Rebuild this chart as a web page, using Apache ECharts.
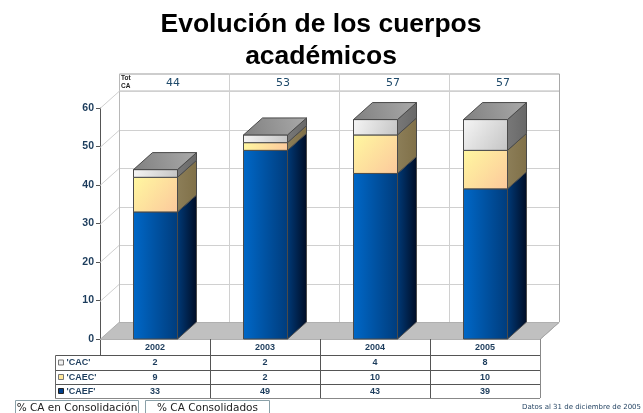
<!DOCTYPE html>
<html>
<head>
<meta charset="utf-8">
<title>Evolución de los cuerpos académicos</title>
<script src="https://cdn.jsdelivr.net/npm/echarts@6/dist/echarts.min.js"></script>
<style>
html,body{margin:0;padding:0;background:#fff}
#chart{width:643px;height:413px}
</style>
</head>
<body>
<div id="chart"></div>
<script>
var anios = ['2002', '2003', '2004', '2005'];
var cac = [2, 2, 4, 8];
var caec = [9, 2, 10, 10];
var caef = [33, 49, 43, 39];
var totales = [44, 53, 57, 57];
var ticks = [0, 10, 20, 30, 40, 50, 60];
var filas = ["'CAC'", "'CAEC'", "'CAEF'"];

// desplazamiento de la pared del fondo (pseudo 3d)
var DX = 19, DY = -17;
var GRIS = '#d0d0d0';
var TEXTO = '#1c3c5c';
var FUENTE = '"Liberation Sans", Arial, sans-serif';
var filaY = [339, 355, 370, 384, 398];

function grad(x0, y0, x1, y1, c0, c1) {
	return new echarts.graphic.LinearGradient(x0, y0, x1, y1, [{offset: 0, color: c0}, {offset: 1, color: c1}]);
}
function linea(x1, y1, x2, y2, color, w) {
	return {type: 'line', shape: {x1: x1, y1: y1, x2: x2, y2: y2}, style: {stroke: color, lineWidth: w || 1}};
}
function poli(puntos, fill, stroke) {
	return {type: 'polygon', shape: {points: puntos}, style: {fill: fill, stroke: stroke || '#4a4a4a', lineWidth: 1}};
}
function texto(x, y, t, font, color, align) {
	return {type: 'text', x: x, y: y, style: {text: t, font: font, fill: color || TEXTO, align: align || 'center', verticalAlign: 'middle'}};
}

// pared del fondo y piso: una fila por tick
function renderPared(params, api) {
	var val = api.value(0);
	var p = api.coord([0, val]);
	var x0 = params.coordSys.x, w = params.coordSys.width;
	var y = Math.round(p[1]) + 0.5;
	var hijos = [];
	if (val === 0) {
		hijos.push(poli([[x0, y], [x0 + DX, y + DY], [x0 + w + DX, y + DY], [x0 + w, y]], '#c0c0c0', '#b0b0b0'));
	} else {
		hijos.push(linea(x0 + DX, y + DY, x0 + w + DX, y + DY, GRIS));
		hijos.push(linea(x0, y, x0 + DX, y + DY, GRIS));
	}
	return {type: 'group', children: hijos};
}

// columnas verticales del fondo y fila de totales
function renderTotales(params, api) {
	var i = api.value(0);
	var c = api.coord([i, 60]);
	var cs = params.coordSys;
	var bw = cs.width / anios.length;
	var xi = Math.round(c[0] - bw / 2 + DX) + 0.5;
	var yTecho = c[1] + DY;
	var yBase = cs.y + cs.height + DY;
	var hijos = [
		linea(xi, yTecho - 17, xi, yBase, i === 0 ? '#b8b8b8' : GRIS),
		linea(xi, yTecho - 17, xi + bw, yTecho - 17, '#bdbdbd', 1.5),
		linea(xi, yTecho, xi + bw, yTecho, GRIS, 1.5),
		texto(c[0] + DX - 1, yTecho - 8, String(api.value(1)), '11px "DejaVu Sans"', '#1f4a6a')
	];
	if (i === anios.length - 1) {
		hijos.push(linea(xi + bw, yTecho - 17, xi + bw, yBase, '#a8a8a8'));
		hijos.push(linea(xi + bw, yBase, xi + bw - DX, yBase - DY, '#a8a8a8'));
	}
	return {type: 'group', children: hijos};
}

// barra apilada: frente, lado y tapa
function renderBarras(params, api) {
	var i = api.value(0);
	var ancho = api.size([1, 0])[0] * 0.4;
	var xc = api.coord([i, 0])[0];
	var x = Math.round(xc - ancho / 2) + 0.5;
	var tramos = [
		{v: api.value(1), frente: ['#0068c8', '#003c7c', 0], lado: ['#003a78', '#000c24']},
		{v: api.value(2), frente: ['#fff8a0', '#fcc89c', 1], lado: ['#8c7e58', '#807048']},
		{v: api.value(3), frente: ['#f6f6f6', '#c4c4c4', 1], lado: ['#787878', '#686868']}
	];
	var hijos = [], acum = 0;
	tramos.forEach(function (t) {
		var yb = api.coord([i, acum])[1];
		acum += t.v;
		var yt = api.coord([i, acum])[1];
		hijos.push(poli([[x + ancho, yb], [x + ancho + DX, yb + DY], [x + ancho + DX, yt + DY], [x + ancho, yt]],
			grad(0, 0, 1, 0, t.lado[0], t.lado[1])));
		hijos.push({type: 'rect', shape: {x: x, y: yt, width: ancho, height: yb - yt},
			style: {fill: t.frente[2] ? grad(0, 0, 1, 1, t.frente[0], t.frente[1]) : grad(0, 0, 1, 0, t.frente[0], t.frente[1]), stroke: '#4a4a4a', lineWidth: 1}});
	});
	var yTop = api.coord([i, acum])[1];
	hijos.push(poli([[x, yTop], [x + DX, yTop + DY], [x + ancho + DX, yTop + DY], [x + ancho, yTop]],
		grad(0, 1, 1, 0, '#808080', '#aaaaaa')));
	return {type: 'group', children: hijos};
}

// celdas de la tabla de datos bajo cada columna
function renderTabla(params, api) {
	var i = api.value(0);
	var xc = api.coord([i, 0])[0];
	var bw = api.size([1, 0])[0];
	var xd = Math.round(xc + bw / 2) + 0.5;
	var hijos = [linea(xd, filaY[0], xd, filaY[4], i === anios.length - 1 ? '#888' : '#555')];
	[1, 2, 3].forEach(function (k) {
		hijos.push(texto(xc, (filaY[k] + filaY[k + 1]) / 2 + 0.5, String(api.value(k)), 'bold 9px ' + FUENTE));
	});
	filaY.slice(1).forEach(function (y, k) {
		hijos.push(linea(xc - bw / 2, y + 0.5, xc + bw / 2, y + 0.5, k === 3 ? '#888' : '#555'));
	});
	return {type: 'group', children: hijos};
}

// columna de leyenda a la izquierda de la tabla, botones y nota
var coloresFila = [['#f0f0f0', '#777'], ['#ffe79a', '#777'], ['#003f8c', '#222']];
var grafico = [];
filas.forEach(function (f, k) {
	var y0 = filaY[k + 1], y1 = filaY[k + 2];
	grafico.push({type: 'rect', shape: {x: 58.5, y: (y0 + y1) / 2 - 2.5, width: 5, height: 5},
		style: {fill: coloresFila[k][0], stroke: coloresFila[k][1], lineWidth: 1}});
	grafico.push({type: 'text', x: 66.5, y: (y0 + y1) / 2 + 0.5,
		style: {text: f, font: 'bold 9px ' + FUENTE, fill: TEXTO, align: 'left', verticalAlign: 'middle'}});
	grafico.push({type: 'line', shape: {x1: 55.5, y1: y1 + 0.5, x2: 100.5, y2: y1 + 0.5}, style: {stroke: k === 2 ? '#888' : '#555', lineWidth: 1}});
});
grafico.push({type: 'line', shape: {x1: 55.5, y1: 355.5, x2: 100.5, y2: 355.5}, style: {stroke: '#555', lineWidth: 1}});
grafico.push({type: 'line', shape: {x1: 55.5, y1: 355.5, x2: 55.5, y2: 398.5}, style: {stroke: '#666', lineWidth: 1}});
[[15.5, 123, '% CA en Consolidación'], [145.5, 124, '% CA Consolidados']].forEach(function (b) {
	grafico.push({type: 'rect', shape: {x: b[0], y: 400.5, width: b[1], height: 16}, style: {fill: '#fff', stroke: '#8aa0a8', lineWidth: 1}});
	grafico.push({type: 'text', x: b[0] + b[1] / 2, y: 408,
		style: {text: b[2], font: '10.5px "DejaVu Sans"', fill: '#222', align: 'center', verticalAlign: 'middle'}});
});
grafico.push({type: 'text', x: 641, y: 407,
	style: {text: 'Datos al 31 de diciembre de 2005', font: '7px "DejaVu Sans"', fill: '#1f3f5f', align: 'right', verticalAlign: 'middle'}});
grafico.push({type: 'text', x: 121, y: 78, style: {text: 'Tot', font: 'bold 6.5px ' + FUENTE, fill: '#222', align: 'left', verticalAlign: 'middle'}});
grafico.push({type: 'text', x: 121, y: 86, style: {text: 'CA', font: 'bold 6.5px ' + FUENTE, fill: '#222', align: 'left', verticalAlign: 'middle'}});

var chart = echarts.init(document.getElementById('chart'), null, {renderer: 'canvas'});
chart.setOption({
	animation: false,
	backgroundColor: '#fff',
	title: {
		text: 'Evolución de los cuerpos\nacadémicos',
		left: 316,
		top: 4,
		textAlign: 'center',
		textStyle: {fontFamily: FUENTE, fontWeight: 'bold', fontSize: 26.5, lineHeight: 32, color: '#000'}
	},
	grid: {left: 100, top: 108, width: 440, height: 231},
	xAxis: {
		type: 'category',
		data: anios,
		axisLine: {lineStyle: {color: '#444'}},
		axisTick: {show: true, length: 16, alignWithLabel: false, lineStyle: {color: '#555'}},
		axisLabel: {margin: 4, fontFamily: FUENTE, fontWeight: 'bold', fontSize: 9, color: TEXTO},
		splitLine: {show: false}
	},
	yAxis: {
		type: 'value',
		min: 0,
		max: 60,
		interval: 10,
		axisLine: {show: true, lineStyle: {color: '#555'}},
		axisTick: {show: true, length: 4, lineStyle: {color: '#555'}},
		axisLabel: {margin: 6, fontFamily: FUENTE, fontWeight: 'bold', fontSize: 10.5, color: TEXTO},
		splitLine: {show: false}
	},
	series: [
		{type: 'custom', name: 'pared', silent: true, clip: false, z: 1, renderItem: renderPared,
			encode: {y: 0}, data: ticks.map(function (t) { return [t]; })},
		{type: 'custom', name: 'totales', silent: true, clip: false, z: 2, renderItem: renderTotales,
			encode: {x: 0}, data: totales.map(function (t, i) { return [i, t]; })},
		{type: 'custom', name: 'barras', silent: true, clip: false, z: 3, renderItem: renderBarras,
			encode: {x: 0}, data: anios.map(function (a, i) { return [i, caef[i], caec[i], cac[i]]; })},
		{type: 'custom', name: 'tabla', silent: true, clip: false, z: 4, renderItem: renderTabla,
			encode: {x: 0}, data: anios.map(function (a, i) { return [i, cac[i], caec[i], caef[i]]; })}
	],
	graphic: grafico
});
</script>
</body>
</html>
